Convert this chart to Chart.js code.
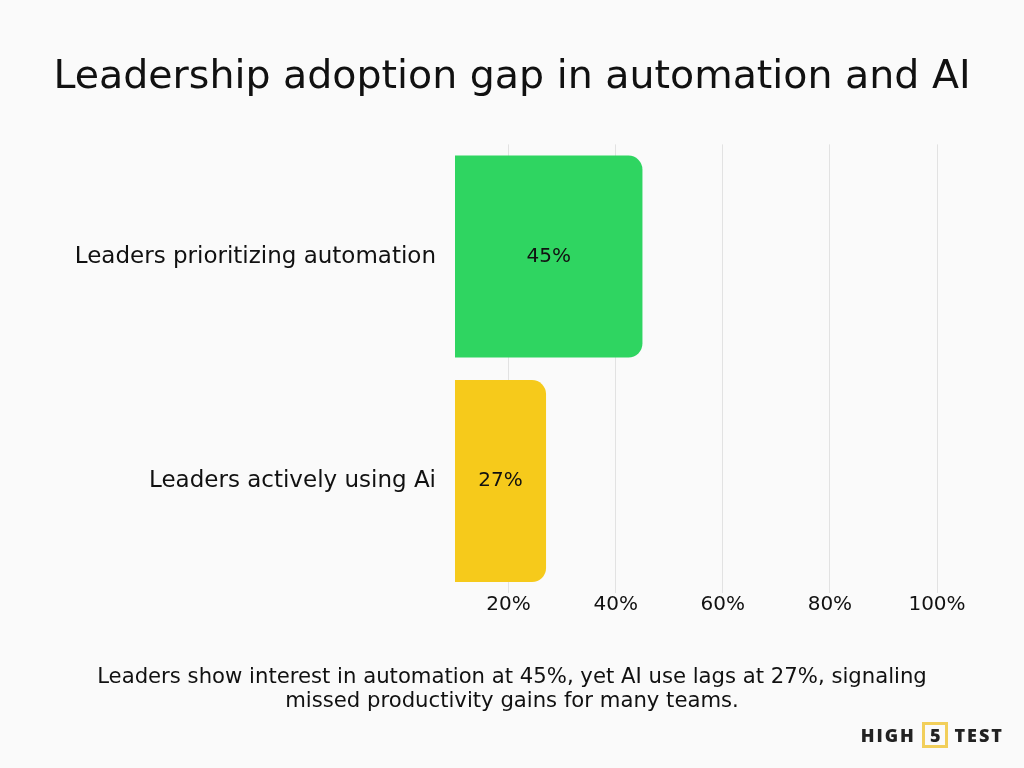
<!DOCTYPE html>
<html>
<head>
<meta charset="utf-8">
<script src="https://cdn.jsdelivr.net/npm/chart.js@4"></script>
<style>
  html, body { margin: 0; padding: 0; background: #fafafa; }
  #wrap { position: relative; width: 1024px; height: 768px; }
  #logo {
    position: absolute; right: 20px; bottom: 20px;
    font-family: "Open Sans", sans-serif; font-weight: 800; font-size: 18px;
    letter-spacing: 2px; color: #222; display: flex; align-items: center;
  }
  #logo .five {
    display: inline-block; border: 3px solid #f2cf5a; padding: 0 5px; margin: 0 6px;
    line-height: 20px; letter-spacing: 0;
  }
</style>
</head>
<body>
<div id="wrap">
  <canvas id="chart" width="1024" height="768"></canvas>
  <div id="logo">HIGH<span class="five">5</span>TEST</div>
</div>
<script>
const categories = ['Leaders prioritizing automation', 'Leaders actively using Ai'];
const values = [45, 27];
const barColors = ['#2fd561', '#f6ca1b'];
const tickValues = [20, 40, 60, 80, 100];
const titleText = 'Leadership adoption gap in automation and AI';
const captionLines = [
  'Leaders show interest in automation at 45%, yet AI use lags at 27%, signaling',
  'missed productivity gains for many teams.'
];

const fontFamily = '"DejaVu Sans", sans-serif';

// writes the value in the middle of the visible part of each bar
const barLabels = {
  id: 'barLabels',
  afterDatasetsDraw(chart) {
    const ctx = chart.ctx;
    const meta = chart.getDatasetMeta(0);
    const left = chart.chartArea.left;
    ctx.save();
    ctx.font = '20px ' + fontFamily;
    ctx.fillStyle = '#111';
    ctx.textAlign = 'center';
    ctx.textBaseline = 'middle';
    meta.data.forEach((bar, i) => {
      const x = (bar.x + Math.max(bar.base, left)) / 2;
      ctx.fillText(values[i] + '%', x, bar.y);
    });
    ctx.restore();
  }
};

new Chart(document.getElementById('chart'), {
  type: 'bar',
  data: {
    labels: categories,
    datasets: [{
      data: values,
      backgroundColor: barColors,
      borderRadius: { topRight: 14, bottomRight: 14, topLeft: 0, bottomLeft: 0 },
      borderSkipped: false,
      barPercentage: 0.9,
      categoryPercentage: 1
    }]
  },
  options: {
    indexAxis: 'y',
    responsive: false,
    animation: false,
    layout: { padding: { left: 0, right: 0, top: 28, bottom: 28 } },
    scales: {
      x: {
        min: 10,
        max: 100,
        afterBuildTicks: (axis) => { axis.ticks = tickValues.map((v) => ({ value: v })); },
        afterFit: (axis) => { axis.height = 30; },
        grid: { color: '#e2e2e2', drawTicks: false },
        border: { display: false },
        ticks: {
          callback: (v) => v + '%',
          color: '#111',
          padding: 0,
          font: { family: fontFamily, size: 20 }
        }
      },
      y: {
        afterFit: (axis) => { axis.width = 455; },
        grid: { display: false },
        border: { display: false },
        ticks: {
          color: '#111',
          padding: 11,
          font: { family: fontFamily, size: 23 }
        }
      },
      // empty axis on the right, only keeps space after the 100% line
      yRight: {
        type: 'category',
        position: 'right',
        afterFit: (axis) => { axis.width = 87; },
        grid: { display: false },
        border: { display: false },
        ticks: { display: false }
      }
    },
    plugins: {
      legend: { display: false },
      tooltip: { enabled: false },
      title: {
        display: true,
        text: titleText,
        color: '#111',
        font: { family: fontFamily, size: 39.5, weight: 'normal', lineHeight: 1.2 },
        padding: { top: 26, bottom: 43 }
      },
      subtitle: {
        display: true,
        position: 'bottom',
        text: captionLines,
        color: '#111',
        font: { family: fontFamily, size: 21.2, lineHeight: 1.15 },
        padding: { top: 42, bottom: 26 }
      }
    }
  },
  plugins: [barLabels]
});
</script>
</body>
</html>
